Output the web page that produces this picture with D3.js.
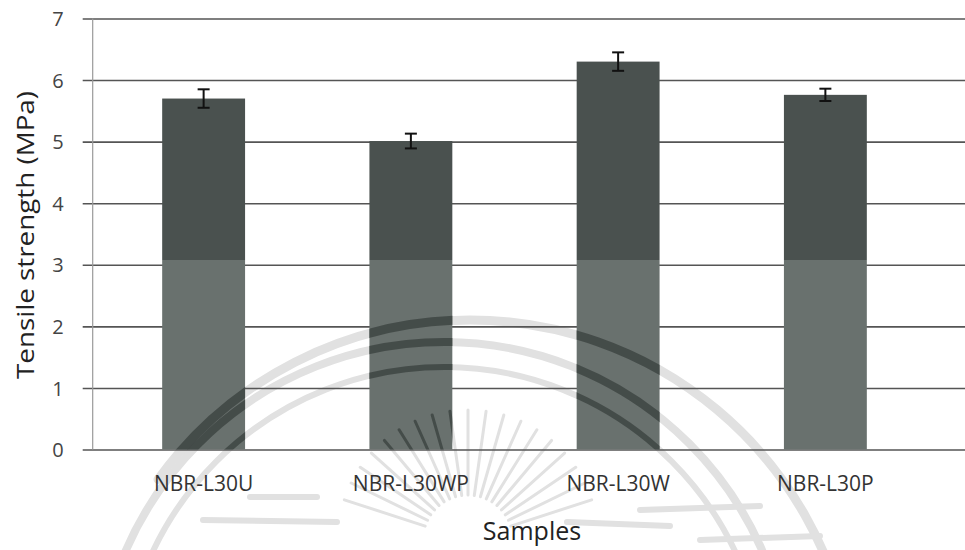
<!DOCTYPE html>
<html>
<head>
<meta charset="utf-8">
<script src="https://cdn.jsdelivr.net/npm/d3@7"></script>
<style>
  html, body { margin: 0; padding: 0; background: #fff; }
  svg { display: block; }
  text { font-family: "Open Sans", "Noto Sans", sans-serif; }
</style>
</head>
<body>
<svg id="chart" width="965" height="550"></svg>
<script>
// Tensile strength of NBR-L30 compounds (MPa) with standard deviation
const samples = ["NBR-L30U", "NBR-L30WP", "NBR-L30W", "NBR-L30P"];
const strength = [5.70, 5.01, 6.30, 5.76];
const strengthSD = [0.15, 0.12, 0.15, 0.10];
const yTicks = [0, 1, 2, 3, 4, 5, 6, 7];

const svg = d3.select("#chart");
const W = 965, H = 550;

const y = d3.scaleLinear().domain([0, 7]).range([449.5, 18.5]);
const x = d3.scaleBand()
  .domain(samples)
  .range([100, 929])
  .paddingInner(0.6)
  .paddingOuter(0.3);

const axisX = 92.7;

const defs = svg.append("defs");

// two-tone bar fill (darker upper part, lighter lower part)
const grad = defs.append("linearGradient")
  .attr("id", "barFill")
  .attr("gradientUnits", "userSpaceOnUse")
  .attr("x1", 0).attr("x2", 0)
  .attr("y1", y(7)).attr("y2", y(0));
const split = (y(3.07) - y(7)) / (y(0) - y(7));
grad.append("stop").attr("offset", 0).attr("stop-color", "#4a514f");
grad.append("stop").attr("offset", split).attr("stop-color", "#4a514f");
grad.append("stop").attr("offset", split).attr("stop-color", "#69716e");
grad.append("stop").attr("offset", 1).attr("stop-color", "#69716e");

// clip region covering the bars, used to darken the seal where it crosses them
const clip = defs.append("clipPath").attr("id", "barClip");
clip.selectAll("rect")
  .data(samples)
  .join("rect")
  .attr("x", d => x(d))
  .attr("width", x.bandwidth())
  .attr("y", (d, i) => y(strength[i]))
  .attr("height", (d, i) => y(0) - y(strength[i]));

// faint seal in the page background
function drawSeal(g) {
  g.attr("fill", "none").attr("stroke-linecap", "round");
  const sc = [444, 689];
  [[347, 8], [322, 6]].forEach(([r, w]) => {
    g.append("circle")
      .attr("cx", sc[0]).attr("cy", sc[1]).attr("r", r)
      .attr("stroke-width", w);
  });
  g.append("circle")
    .attr("cx", 470).attr("cy", 705).attr("r", 385)
    .attr("stroke-width", 9)
    .attr("stroke-dasharray", "0 1450 900 2000");
  const rc = [468, 540];
  d3.range(198, 345, 8).forEach(a => {
    const t = a * Math.PI / 180;
    g.append("line")
      .attr("x1", rc[0] + 45 * Math.cos(t)).attr("y1", rc[1] + 45 * Math.sin(t))
      .attr("x2", rc[0] + 130 * Math.cos(t)).attr("y2", rc[1] + 130 * Math.sin(t))
      .attr("stroke-width", 3);
  });
  [[203, 520, 337, 522], [567, 522, 670, 526], [250, 497, 317, 497],
   [640, 510, 760, 506], [700, 540, 820, 536]].forEach(p => {
    g.append("line")
      .attr("x1", p[0]).attr("y1", p[1]).attr("x2", p[2]).attr("y2", p[3])
      .attr("stroke-width", 6);
  });
}
drawSeal(svg.append("g").attr("stroke", "#e1e1e1"));

// horizontal gridlines with short ticks left of the axis
const yAxis = d3.axisLeft(y)
  .tickValues(yTicks)
  .tickSize(-(W - axisX) - 10)
  .tickFormat(d3.format("d"));
const gy = svg.append("g")
  .attr("transform", `translate(${axisX},0)`)
  .call(yAxis);
gy.select(".domain").remove();
gy.selectAll(".tick line")
  .attr("x1", -10)
  .attr("stroke", "#555")
  .attr("stroke-width", 1.6);
gy.selectAll(".tick text")
  .attr("x", -29)
  .attr("dy", "0.36em")
  .attr("fill", "#444")
  .style("font-size", "20px");

// vertical axis line
svg.append("line")
  .attr("x1", axisX).attr("x2", axisX)
  .attr("y1", y(7)).attr("y2", y(0))
  .attr("stroke", "#9a9a9a")
  .attr("stroke-width", 1.2);

// bars
svg.append("g").selectAll("rect")
  .data(samples)
  .join("rect")
  .attr("x", d => x(d))
  .attr("width", x.bandwidth())
  .attr("y", (d, i) => y(strength[i]))
  .attr("height", (d, i) => y(0) - y(strength[i]))
  .attr("fill", "url(#barFill)");

// seal strokes showing through the bars
drawSeal(svg.append("g")
  .attr("clip-path", "url(#barClip)")
  .attr("stroke", "#3e4543")
  .attr("stroke-opacity", 0.85));

// error bars
const eb = svg.append("g").attr("stroke", "#111").attr("stroke-width", 2);
samples.forEach((s, i) => {
  const cx = x(s) + x.bandwidth() / 2;
  const top = y(strength[i] + strengthSD[i]);
  const bot = y(strength[i] - strengthSD[i]);
  eb.append("line").attr("x1", cx).attr("x2", cx).attr("y1", top).attr("y2", bot);
  eb.append("line").attr("x1", cx - 6).attr("x2", cx + 6).attr("y1", top).attr("y2", top);
  eb.append("line").attr("x1", cx - 6).attr("x2", cx + 6).attr("y1", bot).attr("y2", bot);
});

// category labels
const xAxis = d3.axisBottom(x).tickSize(0).tickPadding(0);
const gx = svg.append("g")
  .attr("transform", `translate(0,${y(0)})`)
  .call(xAxis);
gx.select(".domain").remove();
gx.selectAll(".tick text")
  .attr("y", 41)
  .attr("dy", 0)
  .attr("fill", "#333")
  .style("font-size", "21px");

// axis titles
svg.append("text")
  .attr("x", 532).attr("y", 540)
  .attr("text-anchor", "middle")
  .attr("fill", "#222")
  .style("font-size", "25px")
  .text("Samples");

svg.append("text")
  .attr("transform", "translate(34,235) rotate(-90)")
  .attr("text-anchor", "middle")
  .attr("fill", "#222")
  .attr("textLength", 288)
  .attr("lengthAdjust", "spacingAndGlyphs")
  .style("font-size", "23px")
  .text("Tensile strength (MPa)");
</script>
</body>
</html>
